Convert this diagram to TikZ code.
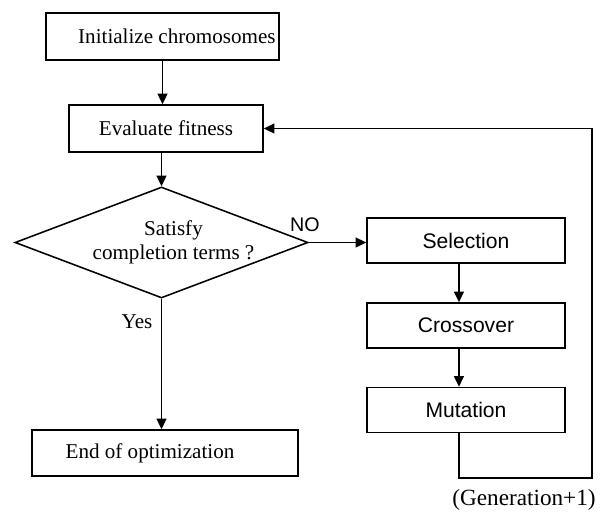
\documentclass[tikz,border=0pt]{standalone}
\usepackage{fontspec}
\setmainfont{Liberation Serif}
\newfontfamily\arialfont{Liberation Sans}
\usetikzlibrary{arrows.meta,shapes.geometric}
\tikzset{
  box/.style={draw, line width=1.1pt, inner sep=0pt, font=\fontsize{15}{17}\selectfont},
  sbox/.style={box, font=\arialfont\fontsize{15}{17}\selectfont, minimum width=4.95cm, minimum height=1.125cm},
  arr/.style={line width=1.1pt, -{Triangle[length=7.5pt,width=7pt]}},
  lab/.style={font=\fontsize{15}{17}\selectfont, inner sep=0pt}
}
\begin{document}
\begin{tikzpicture}[x=0.025cm, y=-0.025cm]
  \useasboundingbox (0,0) rectangle (601,514);
  \node[box, minimum width=5.825cm, minimum height=1.175cm,
    label={[lab, xshift=0.36cm]center:Initialize chromosomes}] (init) at (162.5,36.5) {};
  \node[box, minimum width=4.85cm, minimum height=1.175cm] (eval) at (166,128.5) {Evaluate fitness};
  \node[box, diamond, minimum width=7.325cm, minimum height=2.775cm, shape aspect=2.64,
    label={[lab, align=center, xshift=0.3cm]center:Satisfy\\completion terms ?}] (cond) at (161.5,242.5) {};
  \node[sbox] (sel) at (466,240.5) {Selection};
  \node[sbox] (cross) at (466,325.5) {Crossover};
  \node[sbox] (mut) at (466,410) {Mutation};
  \node[box, minimum width=6.65cm, minimum height=1.15cm,
    label={[lab, xshift=-0.375cm]center:End of optimization}] (end) at (165,453) {};
  \node[lab, font=\arialfont\fontsize{14}{16}\selectfont] (no) at (305,225) {NO};
  \node[lab] (yes) at (137,322) {Yes};
  \node[lab, font=\fontsize{16.5}{18}\selectfont] (gen) at (524,500) {(Generation+1)};
  \coordinate (back) at (592,478);
  \draw[arr] (init.south) -- (init.south |- eval.north);
  \draw[arr] (cond.north |- eval.south) -- (cond.north);
  \draw[arr] (cond.east) -- (cond.east -| sel.west);
  \draw[arr] ([xshift=-5pt]sel.south) -- ([xshift=-5pt]cross.north);
  \draw[arr] ([xshift=-5pt]cross.south) -- ([xshift=-5pt]mut.north);
  \draw[arr] (cond.south) -- (cond.south |- end.north);
  \draw[arr] ([xshift=-5pt]mut.south) |- (back) |- (eval.east);
\end{tikzpicture}
\end{document}
